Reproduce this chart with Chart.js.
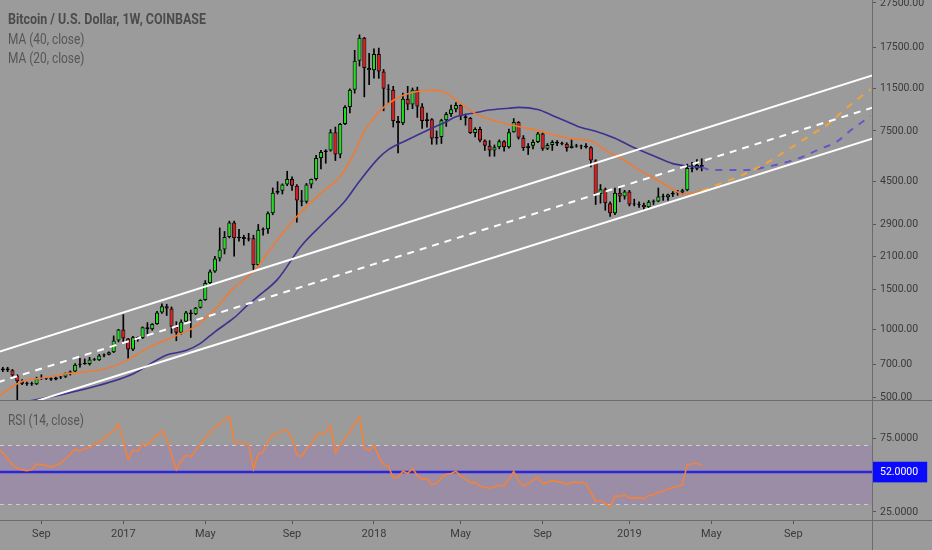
<!DOCTYPE html>
<html lang="en">
<head>
<meta charset="UTF-8">
<title>Bitcoin / U.S. Dollar, 1W</title>
<script src="https://cdn.jsdelivr.net/npm/chart.js"></script>
<style>
  body, html { margin: 0; padding: 0; background: #9b9b9b; }
  #wrap { position: relative; width: 932px; height: 550px; overflow: hidden; background: #9b9b9b;
          font-family: Roboto, sans-serif; }
  canvas { position: absolute; left: 0; }
  #price { top: 0; }
  #rsi { top: 400px; }
  .sep { position: absolute; background: #6c6c6c; }
  .lbl { position: absolute; left: 8px; font-size: 14px; line-height: 18px; color: #565656; white-space: nowrap;
         transform: scaleX(0.85); transform-origin: 0 50%; }
  .lbl.title { font-weight: bold; color: #4b4b4b; transform: scaleX(0.89); }
</style>
</head>
<body>
<div id="wrap">
  <canvas id="price" width="932" height="400"></canvas>
  <canvas id="rsi" width="932" height="150"></canvas>
  <div class="sep" style="left:872px;top:0;width:1px;height:550px"></div>
  <div class="sep" style="left:0;top:400px;width:932px;height:1px"></div>
  <div class="sep" style="left:0;top:520px;width:932px;height:1px"></div>
  <div class="lbl title" style="top:10px">Bitcoin / U.S. Dollar, 1W, COINBASE</div>
  <div class="lbl" style="top:30px">MA (40, close)</div>
  <div class="lbl" style="top:49px">MA (20, close)</div>
  <div class="lbl" style="top:411px">RSI (14, close)</div>
</div>

<script>
// weekly candles, week of 4 Jul 2016 = index 0
const open = [675,660,672,660,625,590,575,578,572,608,605,608,601,612,617,640,652,698,705,702,735,730,766,772,792,892,
  998,910,815,922,915,1020,1000,1055,1185,1265,1235,1025,966,1080,1185,1165,1245,1345,1600,1800,2050,2250,2550,2960,2520,2550,2490,2520,1920,2750,
  2760,3250,4000,4080,4350,4600,4300,3700,3650,4350,4600,5700,6050,6150,7400,5900,8050,9550,11400,15300,19300,14200,
  13900,16400,13700,11500,11400,8300,8100,10400,9800,11400,9600,8300,8450,6950,7050,8350,8900,9350,9750,8700,8550,7350,7650,6800,6450,6150,6350,6750,
  6350,7400,8200,7000,6300,6450,6700,7300,6250,6500,6700,6600,6580,6300,6450,6400,6450,6350,5550,3950,4150,3600,3250,4000,3850,
  4050,3550,3560,3540,3450,3650,3660,3850,3820,3930,4000,4010,4100,5150,5100,5300];
const high = [690,680,680,665,630,600,585,585,615,630,612,610,615,620,642,655,705,745,740,752,745,775,780,795,935,1000,
  1160,912,930,925,1025,1070,1060,1200,1295,1290,1255,1080,1100,1200,1215,1250,1350,1640,1830,2100,2800,2700,3000,3000,2760,2600,2650,2600,2900,2800,
  3300,4200,4480,4380,4980,4700,4350,4100,4400,4600,5850,6150,6200,7600,7800,8100,9700,11500,17000,19900,19400,16500,
  17250,17400,14000,12000,11800,8700,11000,11800,11600,11700,9900,9000,8500,7500,8450,9050,9750,10000,9800,8900,8600,7750,7800,6850,6800,6500,6850,6800,
  7650,8500,8250,7150,6600,6850,7400,7400,6600,6800,6800,6700,6650,6900,6550,6500,6600,6400,5600,4350,4200,3650,4200,4250,4100,
  4100,3750,3650,3600,3700,3720,4200,3950,3950,4050,4100,4150,5350,5450,5600,5650];
const low = [640,650,650,615,470,570,565,565,570,600,600,595,598,605,612,628,650,680,700,695,728,728,755,770,789,880,
  880,745,805,885,910,950,990,1050,1175,1150,960,890,950,1075,920,1160,1240,1340,1560,1780,2000,2150,2530,2100,2450,2350,2450,1830,1900,2600,
  2650,3200,3950,3950,4300,4100,2970,3500,3600,4200,4550,5100,5400,6100,5550,5700,8000,9000,11000,14500,10600,12000,
  12800,12800,9200,10000,7800,6000,8000,9300,9400,8600,7700,7800,6550,6550,6600,7850,8700,9100,8400,7950,7300,7050,6700,6150,5800,5800,6250,6100,
  6300,7400,6900,6150,5900,6250,6650,6150,6200,6150,6450,6500,6100,6300,6350,6250,6300,5200,3550,3600,3350,3150,3200,3650,3750,
  3500,3500,3450,3350,3400,3550,3650,3700,3700,3850,3900,3950,4080,4950,5050,5000];
const close = [660,672,660,625,590,575,578,572,608,605,608,601,612,617,640,652,698,705,702,735,730,766,772,792,892,998,
  910,815,922,915,1020,1000,1055,1185,1265,1235,1025,966,1080,1185,1165,1245,1345,1600,1800,2050,2250,2550,2960,2520,2550,2500,2520,1920,2750,2760,
  3250,4000,4080,4350,4600,4300,3700,3650,4350,4600,5700,6050,6150,7400,5900,8050,9550,11400,15300,19300,14200,13900,
  16400,13700,11500,11400,8300,8100,10400,9800,11400,9600,8300,8450,6950,7050,8350,8900,9350,9750,8700,8550,7350,7650,6800,6450,6150,6350,6750,6350,
  7400,8200,7000,6300,6450,6700,7300,6250,6500,6700,6600,6580,6300,6450,6400,6450,6350,5550,3950,4150,3600,3250,4000,3850,4050,
  3550,3560,3540,3450,3650,3660,3850,3820,3930,4000,4010,4100,5150,5100,5300,5200];

// moving averages: [week index] -> value
const ma20Idx = [0,5,9,14,21,25,32,36,41,43,45,49,51,54,56,61,67,71,74,76,77,79,83,88,90,92,96,99,102,106,109,112,116,119,123,126,130,133,137,140,142,144,146];
const ma20Val = [505,590,608,636,661,700,845,920,1030,1120,1220,1530,1650,1900,2180,2980,4000,4715,6050,7500,8000,9100,10500,11300,11350,11250,9900,8950,8440,8000,7760,7520,7150,6920,6780,6170,5550,5050,4530,4160,3950,3980,4080];
const ma40Idx = [0,7,14,21,28,35,39,42,45,49,52,54,58,63,68,72,75,79,81,85,89,93,95,99,102,106,108,112,115,118,121,124,128,132,136,140,143,146];
const ma40Val = [455,485,520,566,635,770,805,867,975,1125,1290,1400,1660,2340,3010,3680,4500,5700,6200,6850,7530,8230,8650,9020,9270,9440,9530,9320,8780,8260,7760,7480,6960,6320,5830,5380,5250,5180];

// projected paths
const ma20ProjIdx = [146,150,154,159,164,169,172,176,181];
const ma20ProjVal = [4080,4400,4750,5350,6220,7270,7970,9440,11450];
const ma40ProjIdx = [146,148,155,159,164,167,170,174,177,181];
const ma40ProjVal = [5180,5050,5040,5180,5490,5770,6180,6720,7570,8700];

// channel
const channelIdx = [0, 182];
const channelUpper = [793, 13300];
const channelMid = [584, 9585];
const channelLower = [427, 7000];

// RSI (14)
const rsi = [68,65,61,57,54.5,53.5,53,53.5,57.5,57,56.4,55.3,56.6,58,61,64,67.5,66,68,68.5,71,72.5,74,78,80,84.5,
  73,60.5,67,66,71,70,74,77,80,75,63.5,53.5,59.5,63.5,62.5,66.5,71,75.5,79,82.5,85,87,90,72.5,71.5,71.2,71,54,64.5,65.5,
  73,77,78,80,80.5,75,63.5,62.5,68,70.5,77,78.3,79,83.5,65,70.5,75,79.5,85,89.5,68.5,66.5,
  70,62.5,57,56,48,48.5,52.5,51,54.5,49.5,47,47.5,43.5,44.5,48,50.5,51,52.5,49.5,47,45,45,42.5,41.5,41,42,43,42.5,
  47,52.5,46,42.5,44,46.5,48.5,44,45,46,45.5,45,43.5,45,45,45,44,38,32,33,30.5,28.5,35.8,35.5,36.5,
  34.5,34.7,34.5,34,36,36.5,38.5,39,40.5,41.5,42,43.5,57,57.5,58,56.5];
const rsiLevel = 52;
const rsiBand = [30, 70];

// axes
const xMin = 0.415, xMax = 181.33;
const priceTicks = [500,700,1000,1500,2100,2900,4500,7500,11500,17500,27500];
const priceMin = 487.5, priceMax = 28350;
const rsiTicks = [25, 52, 75];
const xTickIdx = [9,26,43,61,78,96,113,131,148,165];
const xTickText = ['Sep','2017','May','Sep','2018','May','Sep','2019','May','Sep'];

Chart.defaults.font.family = 'Roboto, sans-serif';
Chart.defaults.font.size = 10.5;
Chart.defaults.color = '#3a3a3a';

const GREEN = '#1fe01f', RED = '#e51a1a';

function pts(xs, ys) { return xs.map((x, i) => ({ x: x, y: ys[i] })); }

const bodies = open.map((o, i) => ({ x: i, y: [o, close[i]] }));
const wicks = low.map((l, i) => ({ x: i, y: [l, high[i]] }));
const bodyColors = open.map((o, i) => close[i] >= o ? GREEN : RED);

function lineDs(data, color, width, dash, order) {
  return {
    type: 'line', data: data, borderColor: color, borderWidth: width,
    borderDash: dash || [], pointRadius: 0, fill: false, order: order,
    cubicInterpolationMode: 'monotone'
  };
}

new Chart(document.getElementById('price'), {
  type: 'bar',
  data: {
    datasets: [
      lineDs(pts(channelIdx, channelUpper), '#ffffff', 2, null, 1),
      lineDs(pts(channelIdx, channelMid), '#ffffff', 2, [7, 6], 1),
      lineDs(pts(channelIdx, channelLower), '#ffffff', 2, null, 1),
      lineDs(pts(ma20Idx, ma20Val), '#f07b34', 1.6, null, 2),
      lineDs(pts(ma40Idx, ma40Val), '#3a3290', 1.6, null, 2),
      lineDs(pts(ma20ProjIdx, ma20ProjVal), '#f2a33a', 2, [7, 7], 2),
      lineDs(pts(ma40ProjIdx, ma40ProjVal), '#6456c8', 2, [7, 7], 2),
      {
        data: bodies, backgroundColor: bodyColors, borderColor: '#000', borderWidth: 1,
        borderSkipped: false, grouped: false, barPercentage: 0.85, categoryPercentage: 1,
        minBarLength: 1, order: 5
      },
      {
        data: wicks, backgroundColor: '#000', barThickness: 1, grouped: false, order: 6
      }
    ]
  },
  options: {
    responsive: false,
    animation: false,
    layout: { padding: 0 },
    plugins: { legend: { display: false }, tooltip: { enabled: false } },
    scales: {
      x: {
        type: 'linear', min: xMin, max: xMax, offset: false, display: false,
        grid: { offset: false }
      },
      y: {
        type: 'logarithmic', position: 'right', min: priceMin, max: priceMax,
        border: { display: false },
        grid: { drawOnChartArea: false, drawTicks: true, tickLength: 4, color: '#555' },
        ticks: { padding: 4, callback: v => Number(v).toFixed(2), autoSkip: false },
        afterBuildTicks: s => { s.ticks = priceTicks.map(v => ({ value: v })); },
        afterFit: s => { s.width = 60; s.paddingTop = 0; s.paddingBottom = 0; }
      }
    }
  }
});

new Chart(document.getElementById('rsi'), {
  type: 'line',
  data: {
    datasets: [
      {
        data: rsi.map((v, i) => ({ x: i, y: v })), borderColor: '#f2823c', borderWidth: 1.6,
        pointRadius: 0, fill: false, order: 1
      },
      {
        data: pts([xMin, xMax], [rsiLevel, rsiLevel]), borderColor: '#2a26dc', borderWidth: 2.5,
        pointRadius: 0, fill: false, order: 2
      },
      {
        data: pts([xMin, xMax], [rsiBand[1], rsiBand[1]]), borderColor: 'rgba(225,222,235,0.8)',
        borderWidth: 1, borderDash: [4, 4], pointRadius: 0,
        fill: '+1', backgroundColor: 'rgba(153,21,255,0.1)', order: 3
      },
      {
        data: pts([xMin, xMax], [rsiBand[0], rsiBand[0]]), borderColor: 'rgba(225,222,235,0.8)',
        borderWidth: 1, borderDash: [4, 4], pointRadius: 0, fill: false, order: 3
      }
    ]
  },
  options: {
    responsive: false,
    animation: false,
    layout: { padding: 0 },
    plugins: { legend: { display: false }, tooltip: { enabled: false } },
    scales: {
      x: {
        type: 'linear', min: xMin, max: xMax, offset: false,
        border: { display: false },
        grid: { drawOnChartArea: false, drawTicks: true, tickLength: 4, color: '#555' },
        ticks: {
          padding: 4, autoSkip: false, maxRotation: 0, font: { size: 11 },
          callback: v => xTickText[xTickIdx.indexOf(v)]
        },
        afterBuildTicks: s => { s.ticks = xTickIdx.map(v => ({ value: v })); },
        afterFit: s => { s.height = 30; s.paddingLeft = 0; s.paddingRight = 0; }
      },
      y: {
        type: 'linear', position: 'right', min: 19.5, max: 100.85,
        border: { display: false },
        grid: { drawOnChartArea: false, drawTicks: true, tickLength: 4, color: '#555' },
        ticks: {
          padding: 4, autoSkip: false,
          callback: v => Number(v).toFixed(4),
          color: c => c.tick && c.tick.value === rsiLevel ? '#ffffff' : '#3a3a3a',
          showLabelBackdrop: c => !!(c.tick && c.tick.value === rsiLevel),
          backdropColor: c => c.tick && c.tick.value === rsiLevel ? '#0a0aff' : 'rgba(0,0,0,0)',
          backdropPadding: { left: 8, right: 9, top: 4, bottom: 4 }
        },
        afterBuildTicks: s => { s.ticks = rsiTicks.map(v => ({ value: v })); },
        afterFit: s => { s.width = 60; s.paddingTop = 0; s.paddingBottom = 0; }
      }
    }
  }
});
</script>
</body>
</html>
